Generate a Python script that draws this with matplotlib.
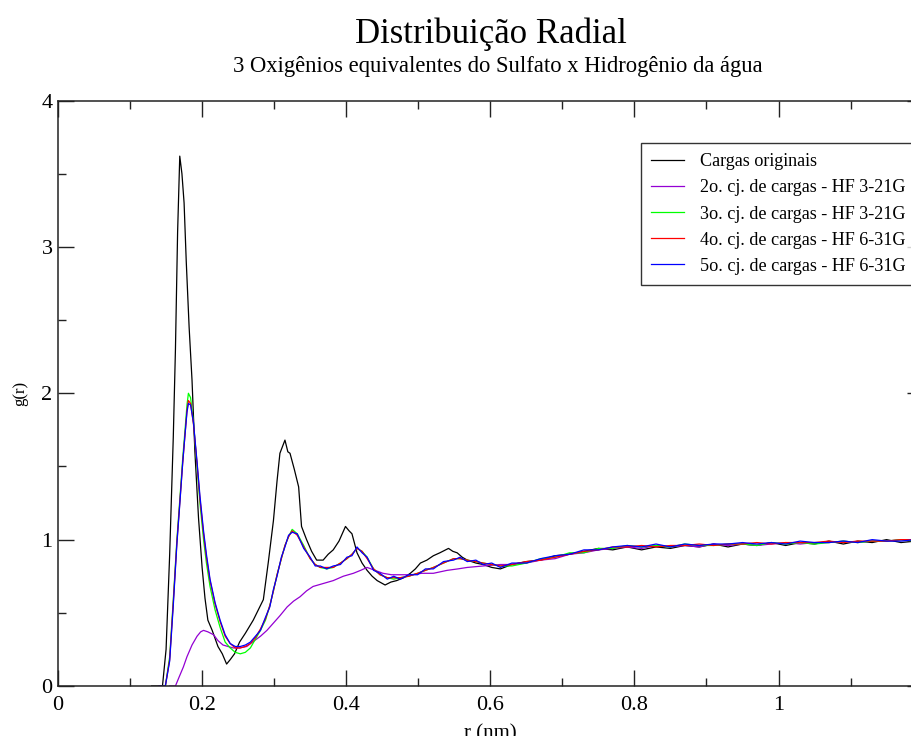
import numpy as np
import matplotlib
matplotlib.use('Agg')
import matplotlib.pyplot as plt
from matplotlib.ticker import MultipleLocator

plt.rcParams['font.family'] = ['Liberation Serif', 'DejaVu Serif']

# --- data (r in nm, g(r)) ---
r_orig = [0.130, 0.145, 0.150, 0.155, 0.160, 0.163, 0.166, 0.169, 0.172, 0.175, 0.178,
          0.182, 0.186, 0.190, 0.195, 0.200, 0.204, 0.208, 0.214, 0.222, 0.228, 0.234,
          0.239, 0.245, 0.252, 0.260, 0.271, 0.278, 0.285, 0.292, 0.299, 0.304, 0.308,
          0.315, 0.319, 0.322, 0.328, 0.334, 0.338, 0.345, 0.352, 0.359, 0.368, 0.375,
          0.382, 0.390, 0.399, 0.404, 0.408, 0.415, 0.422, 0.429, 0.436, 0.443, 0.454,
          0.462, 0.470, 0.480, 0.489, 0.496, 0.503, 0.512, 0.521, 0.530, 0.542, 0.548,
          0.554, 0.561, 0.568, 0.580, 0.590, 0.602, 0.614]
g_orig = [0.00, 0.00, 0.25, 0.90, 1.70, 2.30, 3.10, 3.62, 3.50, 3.30, 2.90,
          2.45, 2.09, 1.60, 1.15, 0.81, 0.60, 0.45, 0.38, 0.27, 0.22, 0.15,
          0.18, 0.22, 0.30, 0.36, 0.45, 0.52, 0.59, 0.85, 1.13, 1.40, 1.59,
          1.68, 1.60, 1.59, 1.48, 1.36, 1.09, 1.00, 0.92, 0.86, 0.86, 0.90,
          0.93, 0.99, 1.09, 1.06, 1.04, 0.91, 0.84, 0.79, 0.75, 0.72, 0.69,
          0.71, 0.72, 0.74, 0.77, 0.80, 0.84, 0.86, 0.89, 0.91, 0.94, 0.92,
          0.91, 0.88, 0.86, 0.84, 0.83, 0.81, 0.80]

r_hf2 = [0.155, 0.163, 0.168, 0.174, 0.179, 0.186, 0.193, 0.198, 0.202, 0.208, 0.216,
         0.222, 0.229, 0.236, 0.243, 0.252, 0.262, 0.270, 0.281, 0.290, 0.299, 0.308,
         0.318, 0.327, 0.336, 0.345, 0.354, 0.368, 0.382, 0.396, 0.410, 0.420, 0.429,
         0.440, 0.451, 0.463, 0.475, 0.490, 0.505, 0.521, 0.540, 0.555, 0.568, 0.590,
         0.614]
g_hf2 = [0.00, 0.00, 0.06, 0.13, 0.20, 0.28, 0.34, 0.37, 0.38, 0.37, 0.35,
         0.31, 0.28, 0.27, 0.26, 0.26, 0.27, 0.30, 0.34, 0.38, 0.43, 0.48,
         0.54, 0.58, 0.61, 0.65, 0.68, 0.70, 0.72, 0.75, 0.77, 0.79, 0.81,
         0.79, 0.77, 0.76, 0.76, 0.76, 0.77, 0.77, 0.79, 0.80, 0.81, 0.82,
         0.83]

r_hf = [0.140, 0.149, 0.155, 0.160, 0.165, 0.169, 0.173, 0.176, 0.179, 0.181, 0.184,
        0.188, 0.193, 0.197, 0.202, 0.206, 0.211, 0.218, 0.225, 0.232, 0.239, 0.246,
        0.253, 0.260, 0.267, 0.274, 0.281, 0.288, 0.294, 0.299, 0.304, 0.310, 0.315,
        0.320, 0.325, 0.332, 0.341, 0.350, 0.357, 0.364, 0.373, 0.382, 0.392, 0.401,
        0.408, 0.415, 0.422, 0.429, 0.438, 0.447, 0.457, 0.466, 0.475, 0.487, 0.499,
        0.510, 0.521, 0.535, 0.549, 0.558, 0.568, 0.580, 0.590, 0.602, 0.614]
g_hf3 = [0.00, 0.00, 0.20, 0.59, 1.00, 1.27, 1.55, 1.73, 1.92, 2.00, 1.97,
         1.80, 1.50, 1.25, 1.00, 0.84, 0.68, 0.52, 0.40, 0.30, 0.26, 0.23,
         0.22, 0.23, 0.26, 0.32, 0.38, 0.45, 0.55, 0.65, 0.76, 0.87, 0.96,
         1.02, 1.07, 1.04, 0.96, 0.87, 0.83, 0.81, 0.80, 0.81, 0.84, 0.87,
         0.90, 0.94, 0.92, 0.88, 0.80, 0.76, 0.74, 0.73, 0.74, 0.75, 0.77,
         0.79, 0.81, 0.84, 0.87, 0.87, 0.86, 0.85, 0.84, 0.83, 0.82]
g_hf4 = [0.00, 0.00, 0.18, 0.57, 0.98, 1.25, 1.52, 1.70, 1.88, 1.95, 1.93,
         1.79, 1.52, 1.28, 1.04, 0.88, 0.72, 0.56, 0.44, 0.34, 0.29, 0.26,
         0.26, 0.27, 0.29, 0.33, 0.39, 0.46, 0.55, 0.65, 0.76, 0.87, 0.96,
         1.02, 1.06, 1.03, 0.95, 0.87, 0.83, 0.81, 0.81, 0.81, 0.84, 0.87,
         0.90, 0.94, 0.92, 0.87, 0.80, 0.76, 0.74, 0.74, 0.74, 0.75, 0.77,
         0.79, 0.81, 0.84, 0.87, 0.87, 0.86, 0.85, 0.84, 0.83, 0.82]
g_hf5 = [0.00, 0.00, 0.17, 0.55, 0.97, 1.24, 1.52, 1.70, 1.87, 1.93, 1.92,
         1.80, 1.53, 1.30, 1.06, 0.90, 0.73, 0.57, 0.45, 0.35, 0.29, 0.27,
         0.27, 0.28, 0.30, 0.34, 0.38, 0.47, 0.54, 0.66, 0.75, 0.88, 0.95,
         1.03, 1.05, 1.04, 0.94, 0.88, 0.82, 0.82, 0.80, 0.82, 0.83, 0.88,
         0.89, 0.95, 0.91, 0.88, 0.79, 0.77, 0.73, 0.75, 0.73, 0.76, 0.76,
         0.80, 0.80, 0.85, 0.86, 0.88, 0.85, 0.86, 0.83, 0.84, 0.81]

# common tail beyond 0.6 nm
r_tail = [0.63, 0.65, 0.67, 0.69, 0.71, 0.73, 0.75, 0.77, 0.79, 0.81, 0.83, 0.85, 0.87, 0.89, 0.91,
          0.93, 0.95, 0.97, 0.99, 1.01, 1.03, 1.05, 1.07, 1.09, 1.11, 1.13, 1.15, 1.17, 1.19, 1.21]
tail_orig = [0.83, 0.85, 0.86, 0.89, 0.90, 0.92, 0.94, 0.93, 0.95, 0.93, 0.95, 0.94, 0.96, 0.95, 0.97,
             0.95, 0.97, 0.96, 0.98, 0.96, 0.98, 0.97, 0.99, 0.97, 0.99, 0.98, 1.00, 0.98, 0.99, 1.00]
tail_hf2 = [0.83, 0.84, 0.86, 0.87, 0.90, 0.91, 0.93, 0.94, 0.95, 0.94, 0.96, 0.95, 0.96, 0.95, 0.97,
            0.96, 0.97, 0.96, 0.97, 0.98, 0.97, 0.98, 0.98, 0.99, 0.98, 0.99, 0.99, 1.00, 0.99, 1.00]
tail_hf3 = [0.82, 0.84, 0.87, 0.88, 0.91, 0.91, 0.94, 0.94, 0.96, 0.95, 0.96, 0.95, 0.97, 0.96, 0.96,
            0.97, 0.97, 0.96, 0.98, 0.97, 0.98, 0.97, 0.98, 0.99, 0.98, 0.99, 0.99, 1.00, 0.99, 1.00]
tail_hf4 = [0.83, 0.85, 0.86, 0.88, 0.90, 0.92, 0.93, 0.95, 0.95, 0.96, 0.95, 0.96, 0.96, 0.97, 0.96,
            0.97, 0.97, 0.98, 0.97, 0.98, 0.98, 0.98, 0.99, 0.98, 0.99, 0.99, 0.99, 1.00, 1.00, 1.00]
tail_hf5 = [0.84, 0.84, 0.87, 0.89, 0.90, 0.93, 0.93, 0.95, 0.96, 0.95, 0.97, 0.95, 0.97, 0.96, 0.97,
            0.97, 0.98, 0.97, 0.98, 0.97, 0.99, 0.98, 0.98, 0.99, 0.98, 1.00, 0.99, 0.99, 1.00, 0.99]

labels = ['Cargas originais',
          '2o. cj. de cargas - HF 3-21G',
          '3o. cj. de cargas - HF 3-21G',
          '4o. cj. de cargas - HF 6-31G',
          '5o. cj. de cargas - HF 6-31G']
colors = ['black', '#9400d3', '#00ff00', '#ff0000', '#0000ff']

series = [(r_orig, g_orig, tail_orig),
          (r_hf2, g_hf2, tail_hf2),
          (r_hf, g_hf3, tail_hf3),
          (r_hf, g_hf4, tail_hf4),
          (r_hf, g_hf5, tail_hf5)]

W, H = 912, 736
fig = plt.figure(figsize=(W / 100, H / 100), dpi=100)
ax = fig.add_axes([58 / W, 50 / H, 864.6 / W, 585.5 / H])

for (r, g, tail), lab, col in zip(series, labels, colors):
    ax.plot(list(r) + r_tail, list(g) + tail, color=col, lw=0.9, label=lab)

ax.set_xlim(0, 1.2)
ax.set_ylim(0, 4)
ax.xaxis.set_major_locator(MultipleLocator(0.2))
ax.xaxis.set_minor_locator(MultipleLocator(0.1))
ax.yaxis.set_major_locator(MultipleLocator(1))
ax.yaxis.set_minor_locator(MultipleLocator(0.5))
ax.set_xticks([0, 0.2, 0.4, 0.6, 0.8, 1.0], ['0', '0.2', '0.4', '0.6', '0.8', '1'])
ax.set_yticks([0, 1, 2, 3, 4], ['0', '1', '2', '3', '4'])
ax.tick_params(which='both', direction='in', top=True, right=True, width=1.0, color='#222222')
ax.tick_params(which='major', length=11.5)
ax.tick_params(which='minor', length=6)
ax.tick_params(axis='x', labelsize=16, pad=7)
ax.tick_params(axis='y', labelsize=16, pad=4)
for s in ax.spines.values():
    s.set_linewidth(1.1)
    s.set_color('#222222')

fig.text(491 / W, 1 - 43 / H, 'Distribuição Radial', ha='center', va='baseline', fontsize=25)
fig.text(498 / W, 1 - 72 / H, '3 Oxigênios equivalentes do Sulfato x Hidrogênio da água',
         ha='center', va='baseline', fontsize=16.3)
fig.text(490 / W, 1 - 738 / H, 'r (nm)', ha='center', va='baseline', fontsize=15)
fig.text(20 / W, 1 - 393 / H, 'g(r)', ha='center', va='center', rotation=90, fontsize=12)

leg = ax.legend(loc='upper left', bbox_to_anchor=(641 / W, 1 - 143 / H),
                bbox_transform=fig.transFigure, fontsize=13.1, frameon=True, fancybox=False,
                handlelength=1.8, handletextpad=0.9, labelspacing=0.5, borderpad=0.57,
                borderaxespad=0)
leg.get_frame().set_edgecolor('black')
leg.get_frame().set_linewidth(1.0)

fig.savefig('out.png', dpi=100)
